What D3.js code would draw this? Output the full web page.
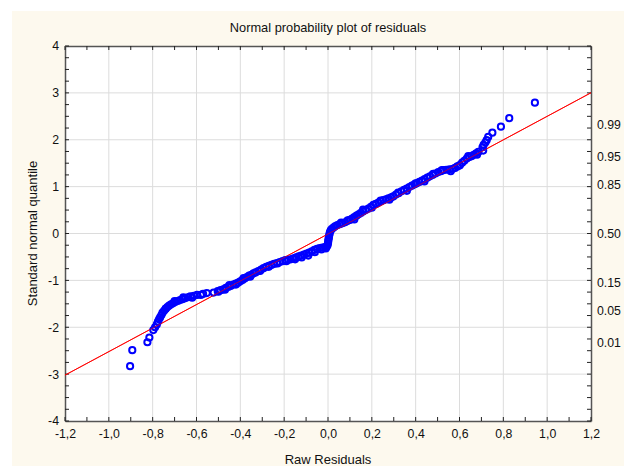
<!DOCTYPE html>
<html><head><meta charset="utf-8">
<script src="https://cdn.jsdelivr.net/npm/d3@7"></script>
<style>body{margin:0;background:#fff}text{font-family:"Liberation Sans",Arial,sans-serif;fill:#111}</style>
</head><body><svg id="c" width="632" height="470"></svg>
<script>
const title = "Normal probability plot of residuals";
const xLabel = "Raw Residuals";
const yLabel = "Standard normal quantile";
const xTickValues = [-1.2,-1.0,-0.8,-0.6,-0.4,-0.2,0.0,0.2,0.4,0.6,0.8,1.0,1.2];
const yTickValues = [-4,-3,-2,-1,0,1,2,3,4];
const probLabels = ["0.99","0.95","0.85","0.50","0.15","0.05","0.01"];
const probQuantiles = [2.326,1.645,1.036,0,-1.036,-1.645,-2.326];
const fitLine = [[-1.2,-3.022],[1.2,3.002]];
const residuals = [-0.903,-0.893,-0.824,-0.815,-0.797,-0.789,-0.781,-0.776,-0.771,-0.766,-0.760,-0.755,-0.748,-0.741,-0.733,-0.725,-0.716,-0.707,-0.697,-0.686,-0.675,-0.664,-0.652,-0.640,-0.628,-0.612,-0.597,-0.570,-0.553,-0.522,-0.503,-0.490,-0.478,-0.466,-0.455,-0.444,-0.432,-0.421,-0.410,-0.400,-0.390,-0.380,-0.370,-0.360,-0.350,-0.340,-0.330,-0.318,-0.305,-0.294,-0.282,-0.270,-0.258,-0.246,-0.233,-0.220,-0.207,-0.195,-0.182,-0.170,-0.158,-0.146,-0.134,-0.122,-0.110,-0.098,-0.086,-0.074,-0.062,-0.050,-0.038,-0.026,-0.014,-0.006,-0.002,0.000,0.001,0.002,0.004,0.005,0.007,0.009,0.013,0.018,0.026,0.034,0.043,0.054,0.066,0.078,0.090,0.100,0.110,0.120,0.130,0.140,0.150,0.160,0.172,0.184,0.196,0.207,0.218,0.230,0.241,0.252,0.264,0.276,0.288,0.298,0.310,0.322,0.335,0.347,0.359,0.371,0.383,0.395,0.405,0.417,0.429,0.441,0.453,0.465,0.477,0.490,0.503,0.515,0.526,0.540,0.555,0.570,0.580,0.590,0.602,0.612,0.622,0.633,0.645,0.655,0.665,0.676,0.686,0.708,0.705,0.710,0.718,0.724,0.731,0.750,0.789,0.827,0.944,
  -0.740,-0.700,-0.660,-0.620,-0.580,-0.500,-0.470,-0.450,-0.420,-0.385,-0.355,-0.310,-0.270,-0.230,-0.190,-0.150,-0.120,-0.090,-0.060,-0.030,-0.010,0.060,0.090,0.120,0.160,0.200,0.240,0.280,0.320,0.360,0.400,0.440,0.480,0.520,0.560,0.600,0.640,0.680];
const quantiles = [-2.83,-2.49,-2.32,-2.22,-2.06,-2.00,-1.94,-1.88,-1.83,-1.79,-1.74,-1.69,-1.65,-1.61,-1.57,-1.54,-1.51,-1.49,-1.46,-1.44,-1.42,-1.40,-1.38,-1.36,-1.34,-1.33,-1.31,-1.29,-1.27,-1.26,-1.23,-1.21,-1.19,-1.16,-1.14,-1.12,-1.09,-1.07,-1.05,-1.02,-0.99,-0.96,-0.93,-0.90,-0.88,-0.85,-0.83,-0.80,-0.77,-0.74,-0.71,-0.69,-0.67,-0.65,-0.63,-0.61,-0.59,-0.57,-0.56,-0.55,-0.53,-0.51,-0.49,-0.47,-0.45,-0.43,-0.41,-0.38,-0.35,-0.33,-0.31,-0.30,-0.29,-0.28,-0.25,-0.21,-0.17,-0.13,-0.09,-0.05,-0.01,0.03,0.07,0.10,0.13,0.16,0.18,0.20,0.22,0.24,0.27,0.29,0.32,0.35,0.38,0.41,0.44,0.47,0.50,0.53,0.57,0.61,0.63,0.66,0.69,0.71,0.73,0.75,0.77,0.79,0.83,0.86,0.90,0.93,0.96,0.99,1.02,1.05,1.07,1.10,1.13,1.16,1.19,1.22,1.25,1.28,1.31,1.33,1.35,1.36,1.37,1.38,1.40,1.43,1.46,1.51,1.55,1.60,1.63,1.65,1.68,1.71,1.74,1.77,1.84,1.89,1.94,1.99,2.06,2.15,2.28,2.46,2.79,
  -1.60,-1.44,-1.36,-1.37,-1.31,-1.24,-1.20,-1.10,-1.09,-0.95,-0.92,-0.80,-0.71,-0.64,-0.59,-0.55,-0.51,-0.47,-0.40,-0.34,-0.32,0.23,0.28,0.30,0.51,0.55,0.70,0.72,0.87,0.91,1.07,1.11,1.27,1.35,1.33,1.45,1.65,1.68];

const svg = d3.select("#c");
const L=65, R=591, T=46, B=421;
svg.append("rect").attr("x",12).attr("y",11).attr("width",612).attr("height",455).attr("fill","#fdf9ee");
svg.append("rect").attr("x",L).attr("y",T).attr("width",R-L).attr("height",B-T).attr("fill","#fff");

const x = d3.scaleLinear().domain([-1.2,1.2]).range([L,R]);
const y = d3.scaleLinear().domain([-4,4]).range([B,T]);
const fmt = d => d3.format(".1f")(d).replace(".",",").replace("−","-");

// grid
svg.append("g").selectAll("line").data(xTickValues.slice(1,-1)).join("line")
  .attr("x1",d=>x(d)).attr("x2",d=>x(d)).attr("y1",T).attr("y2",B)
  .attr("stroke","#dcdcdc").attr("stroke-width",1);
svg.append("g").selectAll("line").data(yTickValues.slice(1,-1)).join("line")
  .attr("y1",d=>y(d)).attr("y2",d=>y(d)).attr("x1",L).attr("x2",R)
  .attr("stroke","#dcdcdc").attr("stroke-width",1);

// axes
const tk = 4;
const xMinor = d3.range(-12,13).map(i=>i/10);
const yMinor = d3.range(-16,17).map(i=>i/4);
const gb = svg.append("g").attr("transform",`translate(0,${B})`)
  .call(d3.axisBottom(x).tickValues(xTickValues).tickFormat(fmt).tickSize(0).tickPadding(8));
const gt = svg.append("g").attr("transform",`translate(0,${T})`)
  .call(d3.axisTop(x).tickValues(xTickValues).tickFormat("").tickSize(0));
const gl = svg.append("g").attr("transform",`translate(${L},0)`)
  .call(d3.axisLeft(y).tickValues(yTickValues).tickFormat(d=>String(d).replace("−","-")).tickSize(0).tickPadding(6));
const gr = svg.append("g").attr("transform",`translate(${R},0)`)
  .call(d3.axisRight(y).tickValues(probQuantiles).tickFormat((d,i)=>probLabels[i]).tickSize(0).tickPadding(6));
[gb,gt,gl,gr].forEach(g=>{
  g.select(".domain").attr("stroke","#555").attr("stroke-width",1.5);
  g.selectAll("text").attr("font-size",12.3).attr("fill","#111").attr("font-family","'Liberation Sans',Arial,sans-serif");
});
// minor inward ticks
const tg = svg.append("g").attr("stroke","#222").attr("stroke-width",1);
tg.selectAll(".tb").data(xMinor).join("line").attr("x1",d=>x(d)).attr("x2",d=>x(d)).attr("y1",B).attr("y2",B-tk);
tg.selectAll(".tt").data(xMinor).join("line").attr("x1",d=>x(d)).attr("x2",d=>x(d)).attr("y1",T).attr("y2",T+tk);
tg.selectAll(".tl").data(yMinor).join("line").attr("y1",d=>y(d)).attr("y2",d=>y(d)).attr("x1",L).attr("x2",L+tk);
tg.selectAll(".tr").data(yMinor).join("line").attr("y1",d=>y(d)).attr("y2",d=>y(d)).attr("x1",R).attr("x2",R-tk);

// clip
svg.append("clipPath").attr("id","cp").append("rect").attr("x",L).attr("y",T).attr("width",R-L).attr("height",B-T);

// fit line
svg.append("path").datum(fitLine).attr("clip-path","url(#cp)")
  .attr("d",d3.line().x(d=>x(d[0])).y(d=>y(d[1])))
  .attr("stroke","#ff0000").attr("stroke-width",1).attr("fill","none");

// points
svg.append("g").selectAll("circle").data(residuals.map((r,i)=>[r,quantiles[i]])).join("circle")
  .attr("cx",d=>x(d[0])).attr("cy",d=>y(d[1])).attr("r",3.1)
  .attr("fill","none").attr("stroke","#0000ff").attr("stroke-width",2);

// red line over the points
svg.append("path").datum(fitLine).attr("clip-path","url(#cp)")
  .attr("d",d3.line().x(d=>x(d[0])).y(d=>y(d[1])))
  .attr("stroke","#ff0000").attr("stroke-width",0.8).attr("fill","none").attr("opacity",0.8);

// titles
svg.append("text").attr("x",(L+R)/2).attr("y",32).attr("text-anchor","middle").attr("font-size",12.8).text(title);
svg.append("text").attr("x",(L+R)/2).attr("y",464).attr("text-anchor","middle").attr("font-size",13).text(xLabel);
svg.append("text").attr("transform",`translate(37,${(T+B)/2}) rotate(-90)`).attr("text-anchor","middle").attr("font-size",13).text(yLabel);
</script></body></html>
